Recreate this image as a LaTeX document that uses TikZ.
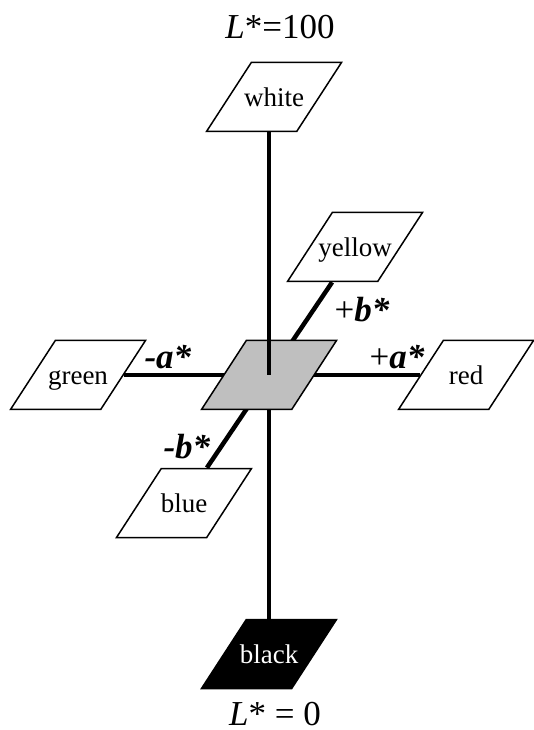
\documentclass[tikz,border=0pt]{standalone}
\usepackage{fontspec}
\setmainfont{Liberation Serif}
\usetikzlibrary{shapes.geometric, backgrounds}
\newcommand{\patchtext}[1]{\makebox[0pt]{#1}}

\begin{document}
\begin{tikzpicture}[
    x=0.4pt, y=-0.4pt,
    patch/.style={trapezium, trapezium left angle=57, trapezium right angle=123,
                  trapezium stretches body, draw, line width=0.6pt, fill=white,
                  minimum width=54pt, inner sep=0pt,
                  text height=17.6pt, text depth=10pt,
                  font=\fontsize{10.8}{12}\selectfont},
    lab/.style={font=\fontsize{14}{16}\selectfont, inner sep=0pt},
    axis/.style={line width=1.8pt},
]
\useasboundingbox (0,0) rectangle (533,730);

\node[patch] (white) at (274,97) {\patchtext{white}};
\node[patch] (yellow) at (355,247) {\patchtext{yellow}};
\node[patch] (green) at (78,375) {\patchtext{green}};
\node[patch, fill=black!25] (grey) at (269,375) {\patchtext{}};
\node[patch] (red) at (466,375) {\patchtext{red}};
\node[patch] (blue) at (184,503) {\patchtext{blue}};
\node[patch, fill=black, text=white] (black) at (269,654) {\patchtext{black}};

\node[lab] (Ltop) at (280,27) {\textit{L}*=100};
\node[lab] (Lbot) at (275,714) {\textit{L}* = 0};
\node[lab] (aneg) at (168,357) {\textbf{\textit{-a*}}};
\node[lab] (apos) at (397,357) {+\textbf{\textit{a*}}};
\node[lab] (bpos) at (362,310) {+\textbf{\textit{b*}}};
\node[lab] (bneg) at (187,447) {\textbf{\textit{-b*}}};

\begin{scope}[on background layer]
\draw[axis] (green.right side) -- (red.left side);
\draw[axis] (yellow.bottom side) -- (blue.top side);
\draw[axis] (grey.center) -- (grey.center |- black.top side);
\end{scope}
\draw[axis] (grey.center |- white.bottom side) -- (grey.center);

\end{tikzpicture}
\end{document}
